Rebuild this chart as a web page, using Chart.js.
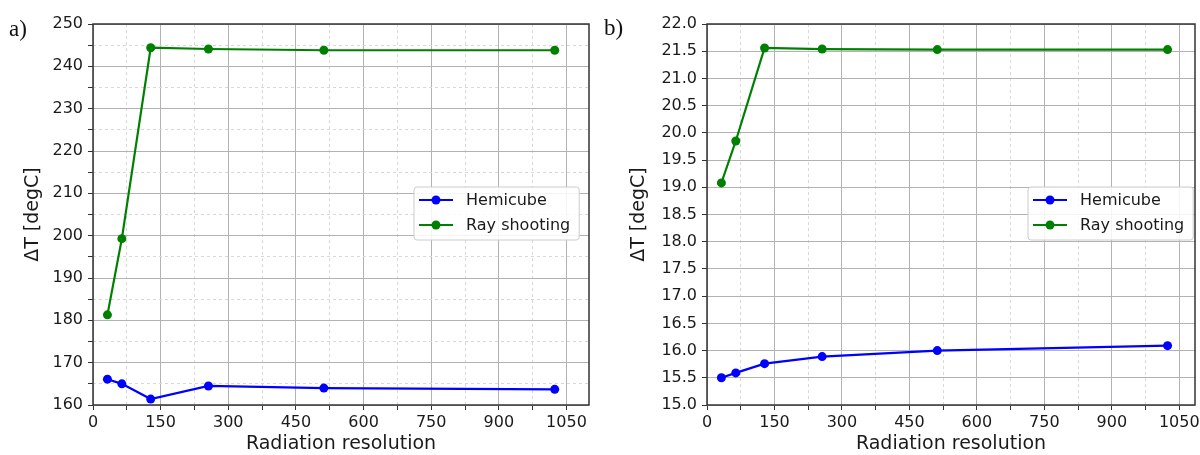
<!DOCTYPE html>
<html>
<head>
<meta charset="utf-8">
<script src="https://cdn.jsdelivr.net/npm/chart.js@4.4.1/dist/chart.umd.min.js"></script>
<style>
  html, body { margin: 0; padding: 0; background: #fff; }
  #wrap { position: relative; width: 1200px; height: 455px; overflow: hidden; }
  .panel { position: absolute; top: 0; width: 600px; height: 455px; }
  .tag { position: absolute; font-family: "Liberation Serif", serif; font-size: 23px; line-height: 23px; color: #111; }
</style>
</head>
<body>
<div id="wrap">
  <div class="panel" style="left:0"><canvas id="chartA" width="600" height="455"></canvas></div>
  <div class="panel" style="left:600px"><canvas id="chartB" width="600" height="455"></canvas></div>
  <div class="tag" style="left:9px;top:17px">a)</div>
  <div class="tag" style="left:604px;top:16px">b)</div>
</div>
<script>
// radiation resolution used for every run
const resolution = [32, 64, 128, 256, 512, 1024];

// panel a) temperature difference
const hemicubeA = [166.1, 165.0, 161.4, 164.5, 164.0, 163.7];
const rayShootingA = [181.3, 199.3, 244.4, 244.1, 243.8, 243.8];

// panel b) temperature difference
const hemicubeB = [15.50, 15.59, 15.76, 15.89, 16.00, 16.09];
const rayShootingB = [19.08, 19.85, 21.56, 21.54, 21.53, 21.53];

// axis ticks (major step, minor step)
const xTickStep = 150;
const xMinorStep = 75;

Chart.defaults.font.family = '"DejaVu Sans", sans-serif';
Chart.defaults.color = '#1a1a1a';

// full box around the plot area, like matplotlib spines
const framePlugin = {
    id: 'frame',
    afterDraw(chart) {
        const { ctx, chartArea: a } = chart;
        ctx.save();
        ctx.strokeStyle = '#333';
        ctx.lineWidth = 1.5;
        ctx.strokeRect(a.left, a.top, a.right - a.left, a.bottom - a.top);
        ctx.restore();
    }
};

// legend box inside the axes with line + marker handles
const legendBox = {
    id: 'legendBox',
    afterDraw(chart, args, opts) {
        const ctx = chart.ctx;
        const sets = chart.data.datasets;
        ctx.save();
        ctx.font = '16px "DejaVu Sans"';
        const textW = Math.max(...sets.map(d => ctx.measureText(d.label).width));
        const x = opts.x, y = opts.y;
        const w = 52 + textW + 9, h = 53;

        ctx.beginPath();
        ctx.roundRect(x, y, w, h, 3);
        ctx.fillStyle = 'rgba(255,255,255,0.85)';
        ctx.fill();
        ctx.strokeStyle = '#cccccc';
        ctx.lineWidth = 1;
        ctx.stroke();

        sets.forEach((d, i) => {
            const cy = y + 13 + i * 25;
            ctx.strokeStyle = d.borderColor;
            ctx.lineWidth = 2.2;
            ctx.beginPath();
            ctx.moveTo(x + 5, cy);
            ctx.lineTo(x + 39, cy);
            ctx.stroke();
            ctx.fillStyle = d.borderColor;
            ctx.beginPath();
            ctx.arc(x + 22, cy, 4.5, 0, Math.PI * 2);
            ctx.fill();
            ctx.fillStyle = '#1a1a1a';
            ctx.textBaseline = 'middle';
            ctx.fillText(d.label, x + 52, cy + 1);
        });
        ctx.restore();
    }
};

function isMinor(value, step) {
    return Math.abs(value / step - Math.round(value / step)) > 1e-6;
}

function makeDataset(label, values, color) {
    return {
        label: label,
        data: resolution.map((x, i) => ({ x: x, y: values[i] })),
        borderColor: color,
        backgroundColor: color,
        borderWidth: 2.2,
        pointRadius: 4.5,
        pointHoverRadius: 4.5,
        pointBorderWidth: 0,
        tension: 0
    };
}

function renderPanel(canvasId, hemicube, rayShooting, cfg) {
    const ctx = document.getElementById(canvasId).getContext('2d');

    return new Chart(ctx, {
        type: 'line',
        data: {
            datasets: [
                makeDataset('Hemicube', hemicube, '#0000ff'),
                makeDataset('Ray shooting', rayShooting, '#008000')
            ]
        },
        plugins: [framePlugin, legendBox],
        options: {
            responsive: false,
            animation: false,
            events: [],
            layout: { padding: { top: 24, right: cfg.padRight, bottom: 0, left: 0 } },
            plugins: {
                legend: { display: false },
                tooltip: { enabled: false },
                legendBox: { x: cfg.legendX, y: 187 }
            },
            scales: {
                x: {
                    type: 'linear',
                    min: 0,
                    max: cfg.xMax,
                    afterFit(scale) {
                        scale.height = 50;
                        scale.paddingLeft = 0;
                        scale.paddingRight = 0;
                    },
                    ticks: {
                        stepSize: xMinorStep,
                        includeBounds: false,
                        autoSkip: false,
                        maxRotation: 0,
                        padding: 3,
                        font: { size: 16 },
                        callback: v => isMinor(v, xTickStep) ? '' : v
                    },
                    grid: {
                        color: c => (c.tick && isMinor(c.tick.value, xTickStep)) ? '#d8d8d8' : '#b2b2b2',
                        lineWidth: 1,
                        tickLength: 5,
                        tickColor: '#333'
                    },
                    border: {
                        display: false,
                        dash: c => (c.tick && isMinor(c.tick.value, xTickStep)) ? [3, 3] : []
                    },
                    title: {
                        display: true,
                        text: 'Radiation resolution',
                        font: { size: 19 },
                        padding: { top: 0, bottom: 0 }
                    }
                },
                y: {
                    min: cfg.yMin,
                    max: cfg.yMax,
                    afterFit(scale) {
                        scale.width = cfg.yWidth;
                        scale.paddingTop = 0;
                        scale.paddingBottom = 0;
                    },
                    ticks: {
                        stepSize: cfg.yStep,
                        includeBounds: false,
                        autoSkip: false,
                        padding: 5,
                        font: { size: 16 },
                        callback: cfg.yLabel
                    },
                    grid: {
                        color: c => (c.tick && cfg.yMinor(c.tick.value)) ? '#d8d8d8' : '#b2b2b2',
                        lineWidth: 1,
                        tickLength: 5,
                        tickColor: '#333'
                    },
                    border: {
                        display: false,
                        dash: c => (c.tick && cfg.yMinor(c.tick.value)) ? [3, 3] : []
                    },
                    title: {
                        display: true,
                        text: 'ΔT [degC]',
                        font: { size: 19 },
                        padding: { top: cfg.titlePad, bottom: 0 }
                    }
                }
            }
        }
    });
}

renderPanel('chartA', hemicubeA, rayShootingA, {
    xMax: 1100, padRight: 11, yWidth: 93, titlePad: 22, legendX: 414,
    yMin: 160, yMax: 250, yStep: 5,
    yLabel: v => isMinor(v, 10) ? '' : v,
    yMinor: v => isMinor(v, 10)
});

renderPanel('chartB', hemicubeB, rayShootingB, {
    xMax: 1085, padRight: 5, yWidth: 107, titlePad: 28, legendX: 428,
    yMin: 15, yMax: 22, yStep: 0.5,
    yLabel: v => v.toFixed(1),
    yMinor: v => false
});
</script>
</body>
</html>
